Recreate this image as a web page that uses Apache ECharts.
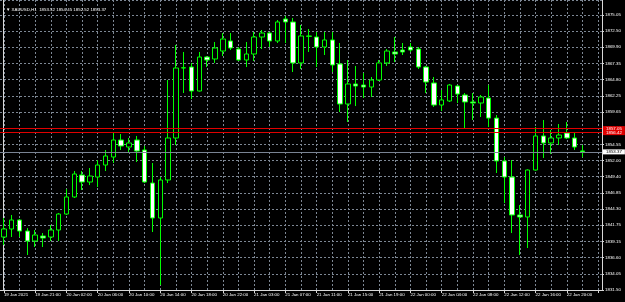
<!DOCTYPE html>
<html>
<head>
<meta charset="utf-8">
<title>XAUUSD,H1</title>
<script src="https://cdn.jsdelivr.net/npm/echarts@6/dist/echarts.min.js"></script>
<style>
html, body { margin: 0; padding: 0; background: #000; }
#chart { width: 625px; height: 302px; }
</style>
</head>
<body>
<div id="chart"></div>
<script>
// XAUUSD H1, bars from 19 Jan 17:00 to 22 Jan 22:00
var opens = [1839.89, 1841.16, 1842.58, 1840.84, 1839.26, 1840.05, 1839.89, 1841.00, 1843.53, 1846.23,
	1849.71, 1848.60, 1849.39, 1851.29, 1852.56, 1855.25, 1854.14, 1855.25, 1853.67, 1848.44,
	1842.90, 1848.92, 1855.57, 1866.65, 1866.81, 1863.01, 1868.39, 1868.08, 1869.34, 1870.93,
	1869.66, 1867.92, 1868.87, 1871.56, 1872.19, 1870.93, 1874.41, 1873.94, 1867.45, 1871.72,
	1871.56, 1869.98, 1871.09, 1867.29, 1860.95, 1864.12, 1863.96, 1863.64, 1864.75, 1867.45,
	1869.19, 1869.50, 1869.98, 1869.66, 1866.81, 1864.28, 1860.79, 1861.43, 1863.80, 1862.38,
	1861.27, 1861.11, 1861.90, 1858.72, 1851.93, 1849.39, 1843.38, 1843.06, 1850.50, 1855.89,
	1854.78, 1855.57, 1856.36, 1855.57, 1853.52];
var highs = [1842.90, 1843.38, 1842.74, 1841.31, 1841.00, 1840.52, 1841.79, 1843.69, 1847.49, 1850.34,
	1850.34, 1850.82, 1852.08, 1853.67, 1856.52, 1856.20, 1855.57, 1855.89, 1854.30, 1851.61,
	1849.39, 1864.75, 1870.30, 1869.19, 1867.45, 1869.19, 1868.55, 1870.77, 1872.19, 1872.19,
	1869.98, 1870.77, 1872.35, 1872.67, 1872.35, 1874.25, 1874.89, 1874.57, 1873.46, 1872.83,
	1872.35, 1872.35, 1872.35, 1870.61, 1867.92, 1866.97, 1865.86, 1865.23, 1867.92, 1869.66,
	1871.56, 1870.61, 1870.61, 1869.98, 1866.97, 1865.23, 1863.17, 1864.12, 1863.96, 1862.69,
	1862.69, 1862.38, 1863.96, 1859.21, 1852.56, 1852.08, 1844.96, 1850.60, 1857.31, 1858.42,
	1856.83, 1857.78, 1858.10, 1856.52, 1854.45];
var lows = [1838.62, 1839.89, 1839.89, 1837.04, 1838.31, 1838.31, 1839.26, 1839.26, 1843.38, 1846.07,
	1847.33, 1848.12, 1847.81, 1850.34, 1851.61, 1853.67, 1853.35, 1851.77, 1848.44, 1840.68,
	1832.29, 1848.44, 1854.46, 1862.69, 1861.74, 1862.93, 1866.81, 1867.45, 1868.55, 1869.50,
	1867.76, 1866.81, 1867.76, 1869.66, 1869.98, 1870.61, 1870.61, 1866.02, 1866.50, 1869.19,
	1866.81, 1868.71, 1866.02, 1859.68, 1858.10, 1860.63, 1861.90, 1862.06, 1864.59, 1866.97,
	1867.60, 1868.71, 1869.19, 1866.50, 1862.69, 1860.48, 1859.84, 1861.27, 1861.11, 1857.15,
	1858.42, 1858.89, 1857.31, 1850.03, 1845.27, 1840.52, 1837.04, 1838.15, 1850.40, 1852.40,
	1853.03, 1854.46, 1855.40, 1853.67, 1852.52];
var closes = [1841.16, 1842.58, 1840.84, 1839.26, 1840.21, 1839.73, 1841.00, 1843.53, 1846.23, 1849.87,
	1848.60, 1849.55, 1851.29, 1852.72, 1855.25, 1854.30, 1854.78, 1853.51, 1848.60, 1842.90,
	1848.92, 1855.57, 1866.65, 1866.70, 1863.01, 1868.39, 1867.92, 1869.82, 1871.24, 1869.82,
	1867.92, 1868.87, 1871.56, 1872.19, 1870.93, 1873.94, 1873.94, 1867.45, 1871.72, 1871.67,
	1869.98, 1871.09, 1867.13, 1860.95, 1864.12, 1863.80, 1863.64, 1864.75, 1867.45, 1869.34,
	1868.87, 1869.19, 1869.50, 1866.81, 1864.43, 1860.79, 1861.59, 1863.96, 1862.53, 1861.27,
	1861.11, 1862.06, 1858.72, 1851.93, 1849.39, 1843.38, 1843.06, 1850.50, 1855.89, 1854.78,
	1855.57, 1856.04, 1855.57, 1854.14, 1853.37];

// one label every 4 bars
var timeLabels = ['19 Jan 2021', '19 Jan 21:00', '20 Jan 02:00', '20 Jan 06:00', '20 Jan 10:00',
	'20 Jan 14:00', '20 Jan 18:00', '20 Jan 22:00', '21 Jan 03:00', '21 Jan 07:00', '21 Jan 11:00',
	'21 Jan 15:00', '21 Jan 19:00', '22 Jan 00:00', '22 Jan 04:00', '22 Jan 08:00', '22 Jan 12:00',
	'22 Jan 16:00', '22 Jan 20:00'];
var priceLabels = ['1831.50', '1834.05', '1836.60', '1839.15', '1841.75', '1844.30', '1846.85',
	'1849.40', '1852.00', '1854.55', '1857.10', '1859.65', '1862.25', '1864.80', '1867.35',
	'1869.90', '1872.50', '1875.05'];
var priceMin = 1831.5;
var priceMax = 1877.42;
var priceStep = 2.5625;

var levels = [1857.05, 1856.42];
var bid = 1853.37;
var title = 'XAUUSD,H1  1853.52 1854.45 1852.52 1853.37';

var emptyBars = 2;
var categories = [];
for (var i = 0; i < opens.length + emptyBars; i++) {
	categories.push(String(i));
}
var ohlc = [];
for (var j = 0; j < opens.length; j++) {
	ohlc.push([opens[j], closes[j], lows[j], highs[j]]);
}

var font = 'Liberation Sans, Arial, sans-serif';
var gridColor = '#7d8794';

var chart = echarts.init(document.getElementById('chart'));
chart.setOption({
	backgroundColor: '#000',
	animation: false,
	title: {
		text: '\u25BC ' + title,
		left: 1,
		top: 3,
		textStyle: { color: '#fff', fontSize: 4.4, fontWeight: 'normal', fontFamily: font }
	},
	grid: { left: -2, right: 23, top: 0, bottom: 12 },
	xAxis: {
		type: 'category',
		data: categories,
		boundaryGap: true,
		axisLine: { lineStyle: { color: '#d8d8d8', width: 1 } },
		axisTick: { show: true, alignWithLabel: true, interval: 3, length: 3, lineStyle: { color: '#d8d8d8' } },
		axisLabel: {
			interval: 3,
			align: 'left',
			margin: 3,
			color: '#fff',
			fontSize: 4.4,
			fontFamily: font,
			formatter: function (v, idx) {
				return timeLabels[idx / 4] || '';
			}
		},
		splitLine: {
			show: true,
			interval: 1,
			alignWithLabel: true,
			lineStyle: { color: gridColor, type: [2, 2], width: 1 }
		}
	},
	yAxis: [{
		type: 'value',
		position: 'right',
		min: priceMin,
		max: priceMax,
		interval: priceStep,
		axisLine: { show: true, lineStyle: { color: '#d8d8d8', width: 1 } },
		axisTick: { show: true, length: 2, lineStyle: { color: '#d8d8d8' } },
		axisLabel: {
			margin: 3,
			color: '#fff',
			fontSize: 4.4,
			fontFamily: font,
			showMaxLabel: false,
			formatter: function (v) {
				var k = Math.round((v - priceMin) / priceStep);
				if (Math.abs(v - (priceMin + k * priceStep)) > 0.001) return '';
				return priceLabels[k] || '';
			}
		},
		splitLine: { show: true, lineStyle: { color: gridColor, type: [2, 2], width: 1 } }
	}, {
		type: 'value',
		position: 'left',
		offset: -3.5,
		min: priceMin,
		max: priceMax,
		axisLine: { show: true, lineStyle: { color: '#d8d8d8', width: 1 } },
		axisTick: { show: false },
		axisLabel: { show: false },
		splitLine: { show: false }
	}],
	series: [{
		type: 'candlestick',
		data: ohlc,
		barWidth: 5,
		itemStyle: {
			color: '#000000',
			color0: '#ffffff',
			borderColor: '#00ff00',
			borderColor0: '#00ff00',
			borderWidth: 1
		},
		markLine: {
			silent: true,
			symbol: ['none', 'none'],
			animation: false,
			data: [{
				yAxis: levels[0],
				lineStyle: { color: '#e00000', type: 'solid', width: 1 },
				label: { backgroundColor: '#e00000' }
			}, {
				yAxis: levels[1],
				lineStyle: { color: '#e00000', type: 'solid', width: 1 },
				label: { backgroundColor: '#e00000' }
			}, {
				yAxis: bid,
				lineStyle: { color: '#7a8494', type: 'solid', width: 1 },
				label: { backgroundColor: '#ffffff', color: '#000' }
			}],
			label: {
				position: 'end',
				distance: 1,
				color: '#fff',
				fontSize: 4.4,
				fontFamily: font,
				lineHeight: 5,
				padding: [0, 3, 0, 3],
				formatter: function (p) { return p.value.toFixed(2); }
			}
		}
	}]
});
</script>
</body>
</html>
